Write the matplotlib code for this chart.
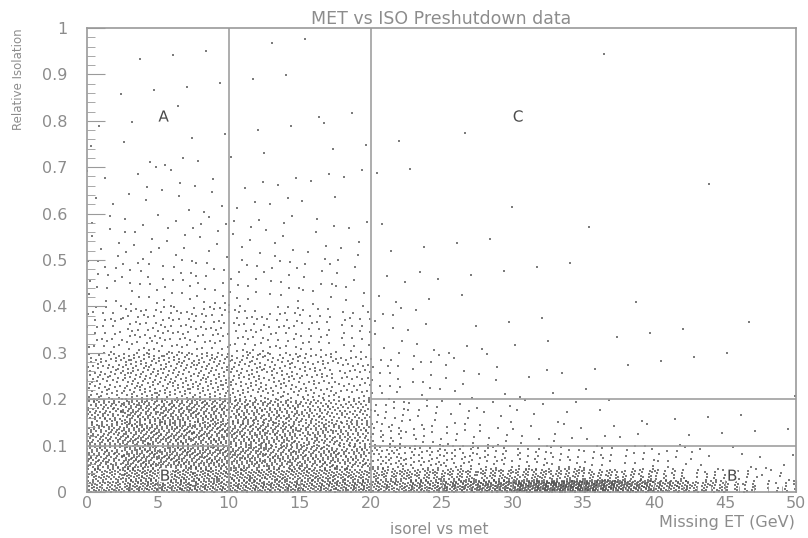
import matplotlib
matplotlib.use("Agg")
import matplotlib.pyplot as plt
import matplotlib.patheffects as pe
import numpy as np

# binned counts of events (rows: isolation bins, cols: MET bins)
met_edges = np.arange(0, 50.1, 2.5)
iso_edges = [0, 0.025, 0.05, 0.1, 0.15, 0.2, 0.3, 0.4, 0.5, 0.6, 0.7, 0.8, 0.9, 1.0]
counts = [
    [48, 62, 64, 62, 62, 62, 59, 62, 56, 65, 75, 90, 118, 135, 125, 95, 65, 40, 24, 14],
    [44, 55, 55, 55, 55, 53, 53, 50, 40, 40, 40, 40, 40, 38, 34, 29, 20, 14, 9, 5],
    [84, 106, 106, 103, 99, 92, 86, 77, 42, 33, 28, 24, 21, 16, 13, 12, 9, 6, 4, 3],
    [77, 97, 97, 95, 90, 84, 73, 64, 21, 14, 10, 8, 5, 5, 4, 3, 2, 1, 1, 1],
    [70, 88, 88, 86, 79, 73, 62, 53, 14, 10, 6, 5, 4, 3, 2, 1, 1, 1, 1, 0],
    [74, 93, 91, 90, 80, 72, 61, 48, 18, 11, 7, 5, 3, 2, 2, 1, 1, 1, 1, 1],
    [31, 40, 40, 38, 35, 30, 25, 22, 8, 5, 3, 2, 2, 1, 1, 1, 1, 0, 1, 0],
    [13, 16, 16, 15, 14, 12, 10, 9, 4, 3, 2, 1, 1, 1, 0, 1, 0, 0, 0, 0],
    [7, 9, 9, 8, 8, 7, 6, 5, 2, 1, 1, 1, 0, 0, 1, 0, 0, 0, 0, 0],
    [4, 5, 5, 5, 4, 4, 3, 3, 1, 1, 0, 1, 0, 0, 0, 0, 0, 1, 0, 0],
    [2, 3, 3, 2, 2, 2, 2, 1, 1, 0, 1, 0, 0, 0, 0, 0, 0, 0, 0, 0],
    [1, 1, 2, 1, 1, 1, 1, 1, 0, 0, 0, 0, 0, 0, 0, 0, 0, 0, 0, 0],
    [0, 1, 1, 1, 0, 1, 1, 0, 0, 0, 0, 0, 0, 0, 1, 0, 0, 0, 0, 0],
]

met_cuts = [10, 20]
iso_cuts = [0.1, 0.2]
regions = ["A", "C", "B", "B"]
region_met = [5.4, 30.4, 5.5, 45.5]
region_iso = [0.808, 0.808, 0.034, 0.034]


def spread(n, x0, x1, y0, y1, offset):
    # deterministic low-discrepancy placement inside a bin (R2 sequence)
    g = 1.32471795724474602596
    k = np.arange(n) + 1 + offset
    u = (0.5 + k / g) % 1
    v = (0.5 + k / g ** 2) % 1
    return x0 + u * (x1 - x0), y0 + v * (y1 - y0)


xs, ys = [], []
for i, row in enumerate(counts):
    for j, n in enumerate(row):
        if n == 0:
            continue
        x, y = spread(n, met_edges[j], met_edges[j + 1], iso_edges[i], iso_edges[i + 1],
                      offset=(i * 20 + j) * 37)
        xs.append(x)
        ys.append(y)
xs = np.concatenate(xs)
ys = np.concatenate(ys)

grey = "#9a9a9a"
text_grey = "#8c8c8c"

fig = plt.figure(figsize=(8.08, 5.38), dpi=100)
ax = fig.add_axes([0.1077, 0.0855, 0.8775, 0.8625])

ax.scatter(xs, ys, s=0.6, marker="s", linewidths=0, color="#505050", alpha=0.75)

# selection boxes
lc = "#a0a0a0"
ax.vlines(met_cuts, 0, 1, colors=lc, lw=1.2)
for c in iso_cuts:
    ax.hlines(c, 0, met_cuts[0], colors=lc, lw=1.2)
    ax.hlines(c, met_cuts[1], 50, colors=lc, lw=1.2)

for t, x, y in zip(regions, region_met, region_iso):
    ax.text(x, y, t, ha="center", va="center", fontsize=11, color="#4a4a4a", zorder=5,
            path_effects=[pe.withStroke(linewidth=2.5, foreground="white")])

ax.set_xlim(0, 50)
ax.set_ylim(0, 1)
ax.set_xticks(np.arange(0, 51, 5))
ax.set_xticks(np.arange(0, 51, 1), minor=True)
ax.set_yticks(np.arange(0, 1.01, 0.1))
ax.set_yticks(np.arange(0, 1.001, 0.02), minor=True)
ax.set_yticklabels(["0"] + [f"{v:.1f}" for v in np.arange(0.1, 0.95, 0.1)] + ["1"])

for s in ax.spines.values():
    s.set_color(grey)
    s.set_linewidth(1.2)

ax.tick_params(axis="both", which="both", direction="in", colors=grey, labelcolor=text_grey,
               labelsize=11.5)
ax.tick_params(axis="y", which="major", length=13, pad=14)
ax.tick_params(axis="y", which="minor", length=6)
ax.tick_params(axis="x", which="major", length=9, pad=3)
ax.tick_params(axis="x", which="minor", length=4)

fig.text(0.5465, 0.965, "MET vs ISO Preshutdown data", ha="center", va="center",
         fontsize=12.5, color=text_grey)
fig.text(0.0235, 0.948, "Relative Isolation", rotation=90, ha="center", va="top",
         fontsize=8.5, color=text_grey)
fig.text(0.984, 0.028, "Missing ET (GeV)", ha="right", va="center",
         fontsize=11.5, color=text_grey)
fig.text(0.544, 0.002, "isorel vs met", ha="center", va="bottom",
         fontsize=11, color=text_grey)

fig.savefig("out.png", dpi=100)
